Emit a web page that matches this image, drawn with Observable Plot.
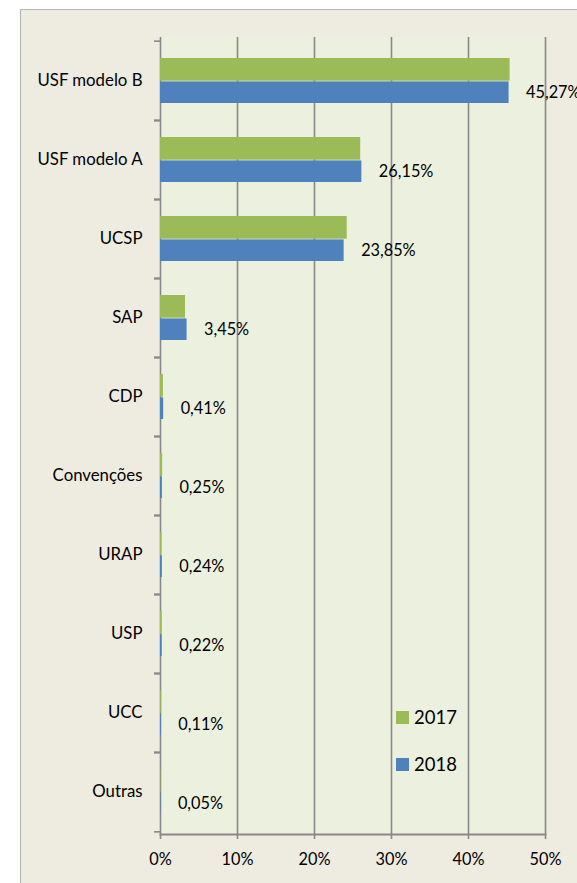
<!DOCTYPE html>
<html>
<head>
<meta charset="utf-8">
<script src="https://cdn.jsdelivr.net/npm/d3@7"></script>
<script src="https://cdn.jsdelivr.net/npm/@observablehq/plot@0.6"></script>
<style>
  html, body { margin: 0; padding: 0; background: #ffffff; }
  #wrap { position: relative; width: 577px; height: 883px; overflow: hidden; font-family: Lato, "Open Sans", sans-serif; }
  #panel { position: absolute; left: 20px; top: 9px; width: 620px; height: 920px; background: #eeece1; border: 1.5px solid #b3b3b3; box-sizing: border-box; }
  #chart { position: absolute; left: 0; top: 0; }
  #legend { position: absolute; left: 396px; top: 703px; font-size: 18.5px; color: #000; }
  .lg-row { display: flex; align-items: center; height: 28px; margin-bottom: 19px; }
  .lg-sw { width: 13px; height: 13px; margin-right: 5px; }
</style>
</head>
<body>
<div id="wrap">
  <div id="panel"></div>
  <div id="chart"></div>
  <div id="legend"></div>
</div>
<script>
const categories = ["USF modelo B", "USF modelo A", "UCSP", "SAP", "CDP", "Convenções", "URAP", "USP", "UCC", "Outras"];
const values2017 = [45.4, 26.0, 24.25, 3.25, 0.38, 0.28, 0.2, 0.22, 0.1, 0.05];
const values2018 = [45.27, 26.15, 23.85, 3.45, 0.41, 0.25, 0.24, 0.22, 0.11, 0.05];
const seriesNames = ["2017", "2018"];
const seriesColors = ["#9bbb59", "#4f81bd"];
const xTicks = [0, 10, 20, 30, 40, 50];

const W = 577, H = 883;
const mTop = 37, mBottom = 49, mLeft = 160, mRight = 32;
const bw = (H - mTop - mBottom) / categories.length;

const d2017 = categories.map((c, i) => ({category: c, value: values2017[i]}));
const d2018 = categories.map((c, i) => ({category: c, value: values2018[i], label: values2018[i].toFixed(2).replace(".", ",") + "%"}));

const gridColor = "#888888";

const chart = Plot.plot({
  width: W,
  height: H,
  marginTop: mTop,
  marginBottom: mBottom,
  marginLeft: mLeft,
  marginRight: mRight,
  style: {background: "transparent", fontFamily: "Lato, 'Open Sans', sans-serif", color: "#000"},
  x: {domain: [0, 50], axis: null},
  y: {domain: categories, padding: 0, axis: null},
  marks: [
    Plot.frame({fill: "#ebf1de", stroke: null}),
    Plot.ruleX(xTicks, {stroke: gridColor, strokeWidth: 1.6}),
    Plot.barX(d2017, {x: "value", y: "category", fill: seriesColors[0], insetTop: 17, insetBottom: 39.3}),
    Plot.barX(d2018, {x: "value", y: "category", fill: seriesColors[1], insetTop: 40.4, insetBottom: 17}),
    Plot.text(d2018, {x: "value", y: "category", text: "label", textAnchor: "start", dx: 17, dy: 12, fontSize: 16.3, fill: "#000"}),
    Plot.axisY({tickSize: 0, tickPadding: 18, fontSize: 16.8, label: null, fill: "#000"}),
    Plot.axisY({text: null, tickSize: 6, dy: -bw / 2, stroke: gridColor, strokeWidth: 1.6, label: null}),
    Plot.axisY({text: null, tickSize: 6, dy: bw / 2, stroke: gridColor, strokeWidth: 1.6, label: null}),
    Plot.axisX({ticks: xTicks, tickFormat: d => d + "%", tickSize: 5, tickPadding: 14, fontSize: 16.3, stroke: gridColor, strokeWidth: 1.6, label: null, fill: "#000"}),
    Plot.frame({anchor: "bottom", stroke: gridColor, strokeWidth: 2})
  ]
});
document.getElementById("chart").appendChild(chart);

const legend = document.getElementById("legend");
seriesNames.forEach((name, i) => {
  const row = document.createElement("div");
  row.className = "lg-row";
  const sw = document.createElement("div");
  sw.className = "lg-sw";
  sw.style.background = seriesColors[i];
  const tx = document.createElement("span");
  tx.textContent = name;
  row.appendChild(sw);
  row.appendChild(tx);
  legend.appendChild(row);
});
</script>
</body>
</html>
